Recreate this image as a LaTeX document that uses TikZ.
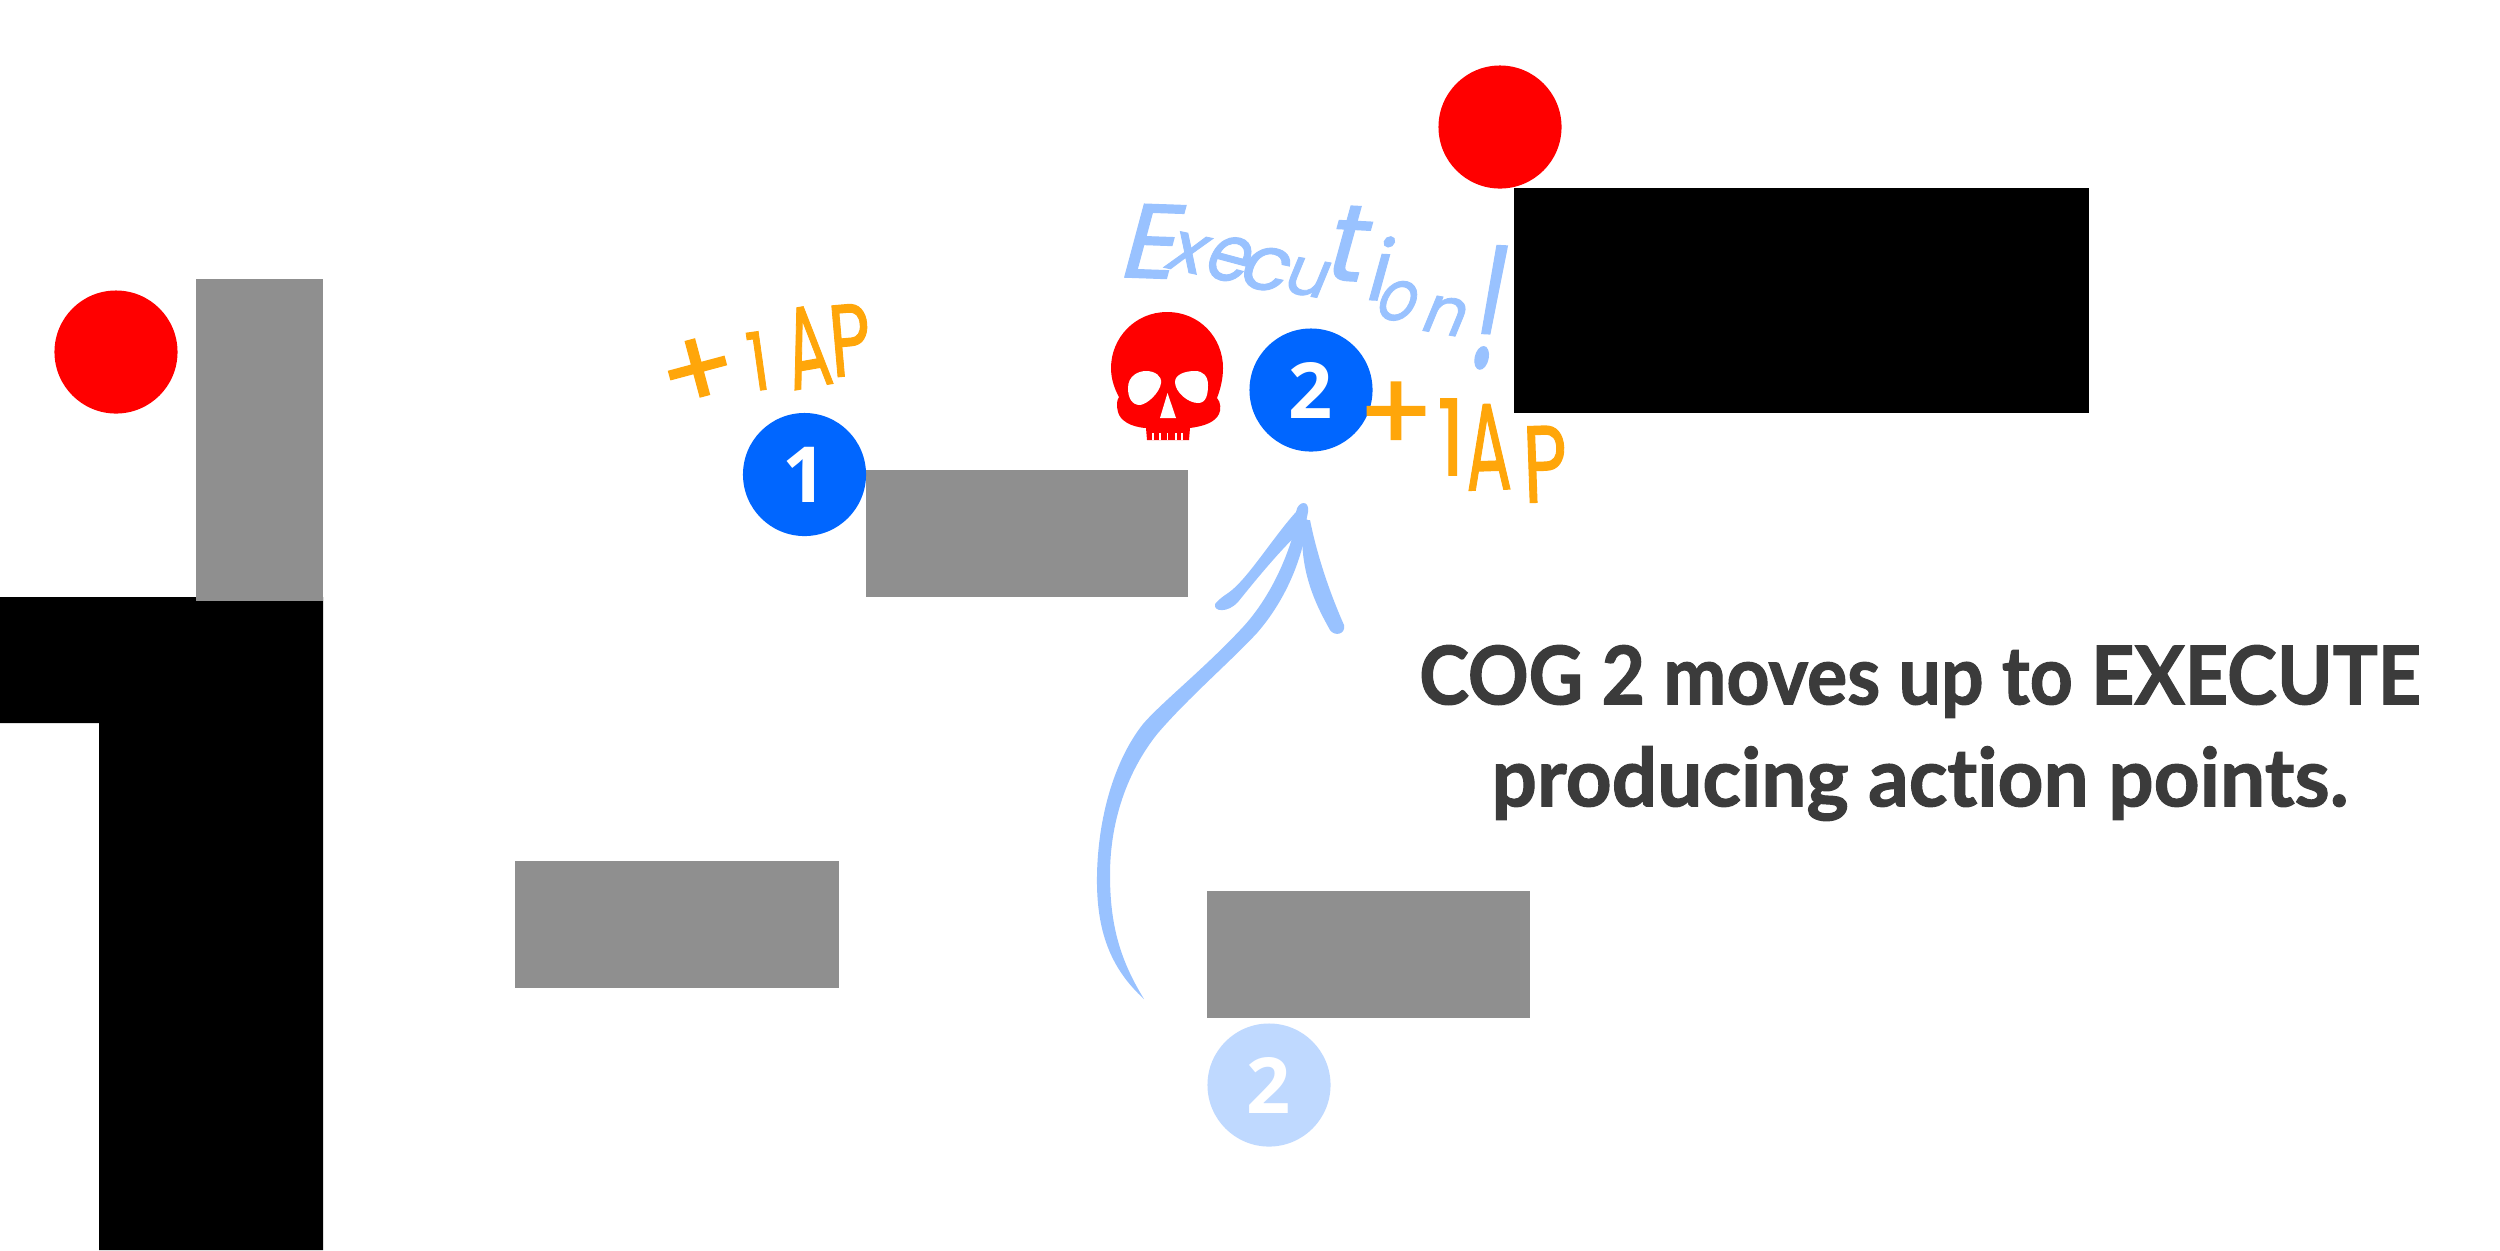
\documentclass[tikz,border=0pt]{standalone}
\usepackage{fontspec}
\setmainfont{Open Sans}
\newfontfamily\captionfont[BoldFeatures={FakeBold=1.4},Ligatures=NoCommon]{Lato}
\newfontfamily\handfont[FakeBold=1.2]{Poppins}
\newfontfamily\handslant[FakeBold=1.2,FakeSlant=0.22]{Poppins}
\definecolor{cogblue}{HTML}{0066FF}
\definecolor{coglight}{HTML}{BFD9FF}
\definecolor{sketchblue}{HTML}{99C2FF}
\definecolor{sketchorange}{HTML}{FFA60A}
\definecolor{plat}{HTML}{8F8F8F}
\definecolor{ink}{HTML}{3B3B3B}
% options, name, position, rotation, font size, horizontal scale, text
\newcommand{\hl}[7]{\node[handletter,#1,rotate=#4,font=\fontsize{#5}{#5}\selectfont] (#2) at (#3) {\scalebox{#6}[1]{#7}};}
\tikzset{
  handletter/.style={inner sep=0pt,outer sep=0pt},
  execletter/.style={text=sketchblue,execfont},
  execfont/.style={execute at begin node=\handslant},
  aporange/.style={text=sketchorange,execute at begin node=\handfont},
  platform/.style={fill=plat},
  wall/.style={fill=black},
  disc/.style={circle,minimum size=1.23cm,inner sep=0pt,outer sep=0pt,text=white,font=\bfseries\fontsize{22}{22}\selectfont},
  sketch/.style={fill=sketchblue}
}
\begin{document}
\begin{tikzpicture}[x=0.01cm,y=-0.01cm]
\useasboundingbox (0,0) rectangle (2500,1250);
\fill[white] (0,0) rectangle (2500,1250);
% walls and platforms
\fill[wall] (0,597) -- (323,597) -- (323,1250) -- (99,1250) -- (99,723) -- (0,723) -- cycle;
\fill[wall] (1514,188) rectangle (2089,413);
\fill[platform] (196,279) rectangle (323,601);
\fill[platform] (866,470) rectangle (1188,597);
\fill[platform] (515,861) rectangle (839,988);
\fill[platform] (1207,891) rectangle (1530,1018);
% red discs
\node[disc,fill=red] (redleft) at (116,352) {};
\node[disc,fill=red] (redtop) at (1500,127) {};
% skull
\fill[red] (1167,312) .. controls (1200,312) and (1223,338) .. (1223,368) .. controls (1223,380) and (1220,390) .. (1217,398) .. controls (1221,402) and (1221,410) .. (1219,414) .. controls (1215,422) and (1205,426) .. (1190,428) -- (1189,440) -- (1147,440) -- (1146,428) .. controls (1130,427) and (1120,420) .. (1118,412) .. controls (1116,405) and (1117,400) .. (1119,397) .. controls (1114,388) and (1111,378) .. (1111,368) .. controls (1111,338) and (1135,312) .. (1167,312) -- cycle;
\fill[white] (1128,388) .. controls (1128,376) and (1138,371) .. (1146,371) .. controls (1155,371) and (1162,376) .. (1161,383) .. controls (1160,392) and (1148,404) .. (1140,405) .. controls (1132,405) and (1128,398) .. (1128,388) -- cycle;
\fill[white] (1175,382) .. controls (1175,375) and (1184,371) .. (1195,371) .. controls (1203,371) and (1208,376) .. (1208,385) .. controls (1208,395) and (1206,403) .. (1198,403) .. controls (1188,403) and (1175,392) .. (1175,382) -- cycle;
\fill[white] (1167.5,393) -- (1160,418) -- (1176,418) -- cycle;
\foreach \tx in {1153,1160,1167.5,1176,1182} \draw[white,line width=0.4pt] (\tx,433) -- (\tx,440);
% cog discs
\node[disc,fill=cogblue] (cogone) at (804.5,474.5) {1};
\node[disc,fill=cogblue] (cogtwo) at (1311,390) {2};
\node[disc,fill=coglight] (coggone) at (1269,1085) {2};
% arrow
\fill[sketch] (1144,999) .. controls (1110,968) and (1096,930) .. (1097,875) .. controls (1098,820) and (1113,762) .. (1143,724) .. controls (1162,702) and (1205,668) .. (1243,627) .. controls (1265,603) and (1287,565) .. (1298,516) -- (1308,520) .. controls (1302,562) and (1284,602) .. (1257,633) .. controls (1230,662) and (1188,698) .. (1158,733) .. controls (1136,760) and (1110,808) .. (1110,875) .. controls (1110,925) and (1120,960) .. (1144,999) -- cycle;
\fill[sketch] (1215,604) .. controls (1222,596) and (1226,595) .. (1232,590) .. controls (1250,575) and (1275,535) .. (1296,512) .. controls (1298,500) and (1310,500) .. (1308,512) -- (1305,527) .. controls (1285,545) and (1262,572) .. (1238,602) .. controls (1228,613) and (1213,612) .. (1215,604) -- cycle;
\fill[sketch] (1303,520) -- (1310,520) .. controls (1318,560) and (1332,598) .. (1344,625) .. controls (1346,634) and (1335,637) .. (1330,630) .. controls (1316,605) and (1298,570) .. (1303,520) -- cycle;
% Execution!
\hl{execletter}{exE}{1146,241}{-2}{30}{1.05}{E}
\hl{execletter}{exx}{1184,252}{-12}{20}{1.05}{x}
\hl{execletter}{exe}{1226,258}{-15}{23}{0.85}{e}
\hl{execletter}{exc}{1262,268}{-12}{22}{1}{c}
\hl{execletter}{exu}{1304,277}{-10}{19}{1}{u}
\hl{execletter}{ext}{1342,243}{-3}{31}{1}{t}
\hl{execletter}{exi}{1375,268}{-3}{24}{1}{i}
\hl{execletter}{exo}{1395,300}{-15}{21}{0.8}{o}
\hl{execletter}{exn}{1442,315}{-10}{19}{1}{n}
\hl{execletter}{exbang}{1483,307}{-3}{50}{0.6}{!}
% +1AP right
\hl{aporange}{rplus}{1396,417}{0}{32}{1}{+}
\hl{aporange}{rone}{1451,437}{0}{30}{0.8}{1}
\hl{aporange}{ra}{1488,447}{2}{35}{0.55}{A}
\hl{aporange}{rp}{1545,464}{2}{31}{0.7}{P}
% +1AP left
\hl{aporange}{lplus}{699,374}{15}{32}{1}{+}
\hl{aporange}{lone}{758,361}{8}{23}{0.8}{1}
\hl{aporange}{la}{807,347}{10}{33}{0.55}{A}
\hl{aporange}{lp}{850,340}{5}{29}{0.7}{P}
% caption
\node[inner sep=0pt,align=center,text=ink,font=\captionfont\bfseries\fontsize{23}{29}\selectfont] (caption) at (1920,733) {\scalebox{0.93}[1]{COG 2 moves up to EXECUTE}\\\scalebox{0.99}[1]{producing action points.}};
\end{tikzpicture}
\end{document}
